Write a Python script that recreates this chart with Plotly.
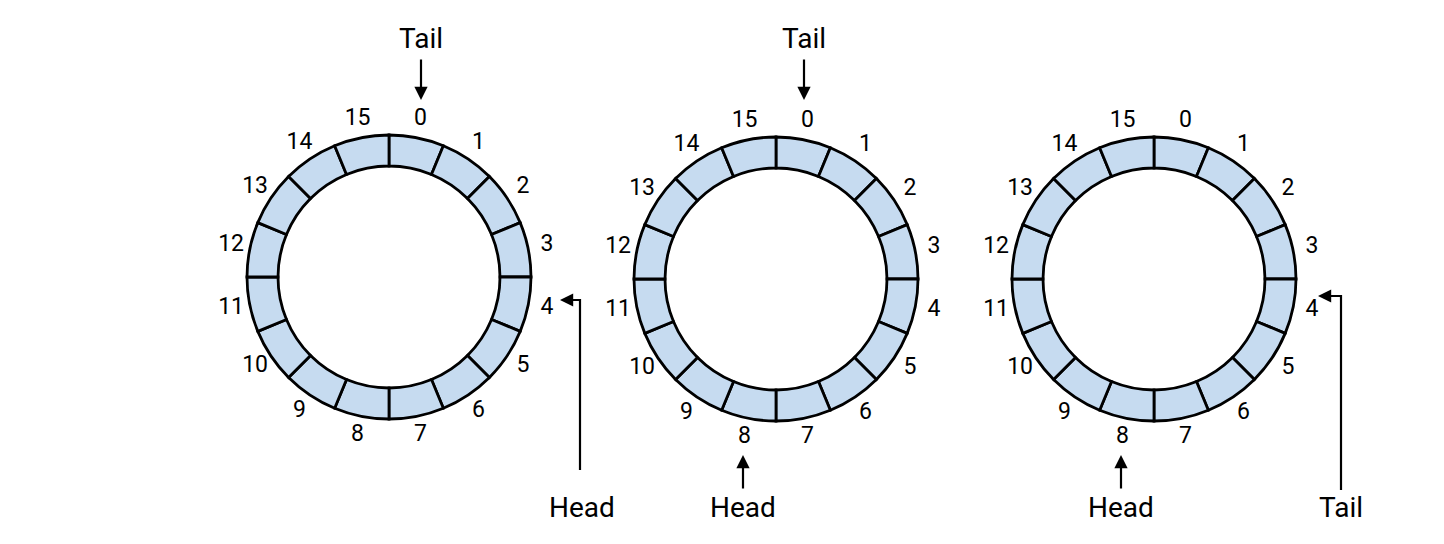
import plotly.graph_objects as go

slots = [str(i) for i in range(16)]
filled = [1] * 16

W, H = 1444, 544
DX, DY = -8, -8  # page offset correction
FONT = "Liberation Sans Narrow, Roboto, sans-serif"
BLUE = "#c6dbf0"

centers = [(389, 277), (776, 279), (1154, 279)]
RMAX = 180
R_IN, R_OUT, R_LAB = 111, 142, 161

fig = go.Figure()

seg = 360 / 16
thetas = [90 - seg * i - seg / 2 for i in range(16)]

for k, (cx, cy) in enumerate(centers):
    cx, cy = cx + DX, cy + DY
    pname = "polar" if k == 0 else "polar%d" % (k + 1)
    fig.add_trace(go.Barpolar(
        r=[R_OUT - R_IN] * len(filled), base=R_IN, theta=thetas, width=seg,
        marker=dict(color=BLUE, line=dict(color="black", width=2.8)),
        subplot=pname, hoverinfo="skip"))
    fig.add_trace(go.Scatterpolar(
        r=[R_LAB] * 16, theta=thetas, text=slots, mode="text",
        textfont=dict(family=FONT, size=23, color="black"),
        subplot=pname, hoverinfo="skip"))
    yc = H - cy
    fig.update_layout(**{pname: dict(
        domain=dict(x=[(cx - RMAX) / W, (cx + RMAX) / W],
                    y=[(yc - RMAX) / H, (yc + RMAX) / H]),
        bgcolor="rgba(0,0,0,0)",
        radialaxis=dict(range=[0, RMAX], visible=False),
        angularaxis=dict(visible=False, rotation=0, direction="counterclockwise"),
    )})

bends = [([580, 580, 566], [470, 300, 300]), ([1341, 1341, 1326], [490, 296, 296])]
for xs, ys in bends:
    fig.add_trace(go.Scatter(x=[v + DX for v in xs], y=[v + DY for v in ys], mode="lines",
                             line=dict(color="black", width=2.2), hoverinfo="skip"))

arrows = [(421, 58, 421, 100), (804, 58, 804, 100), (743, 490, 743, 455),
          (1121, 490, 1121, 455), (580, 300, 560, 300), (1341, 296, 1318, 296)]
for x0, y0, x1, y1 in arrows:
    fig.add_annotation(x=x1 + DX, y=y1 + DY, ax=x0 + DX, ay=y0 + DY,
                       xref="x", yref="y", axref="x", ayref="y",
                       showarrow=True, arrowhead=2, arrowsize=1.2, arrowwidth=2.2,
                       arrowcolor="black", text="")

words = [("Tail", 421, 38), ("Tail", 804, 38), ("Head", 582, 507),
         ("Head", 743, 507), ("Head", 1121, 507), ("Tail", 1341, 507)]
for t, x, y in words:
    fig.add_annotation(x=x + DX, y=y + DY, xref="x", yref="y", text=t, showarrow=False,
                       font=dict(family=FONT, size=28, color="black"))

fig.update_layout(
    width=W, height=H, margin=dict(l=0, r=0, t=0, b=0),
    paper_bgcolor="white", plot_bgcolor="white", showlegend=False,
    xaxis=dict(range=[0, W], visible=False, domain=[0, 1]),
    yaxis=dict(range=[H, 0], visible=False, domain=[0, 1]),
)

fig.write_html("out.html")
